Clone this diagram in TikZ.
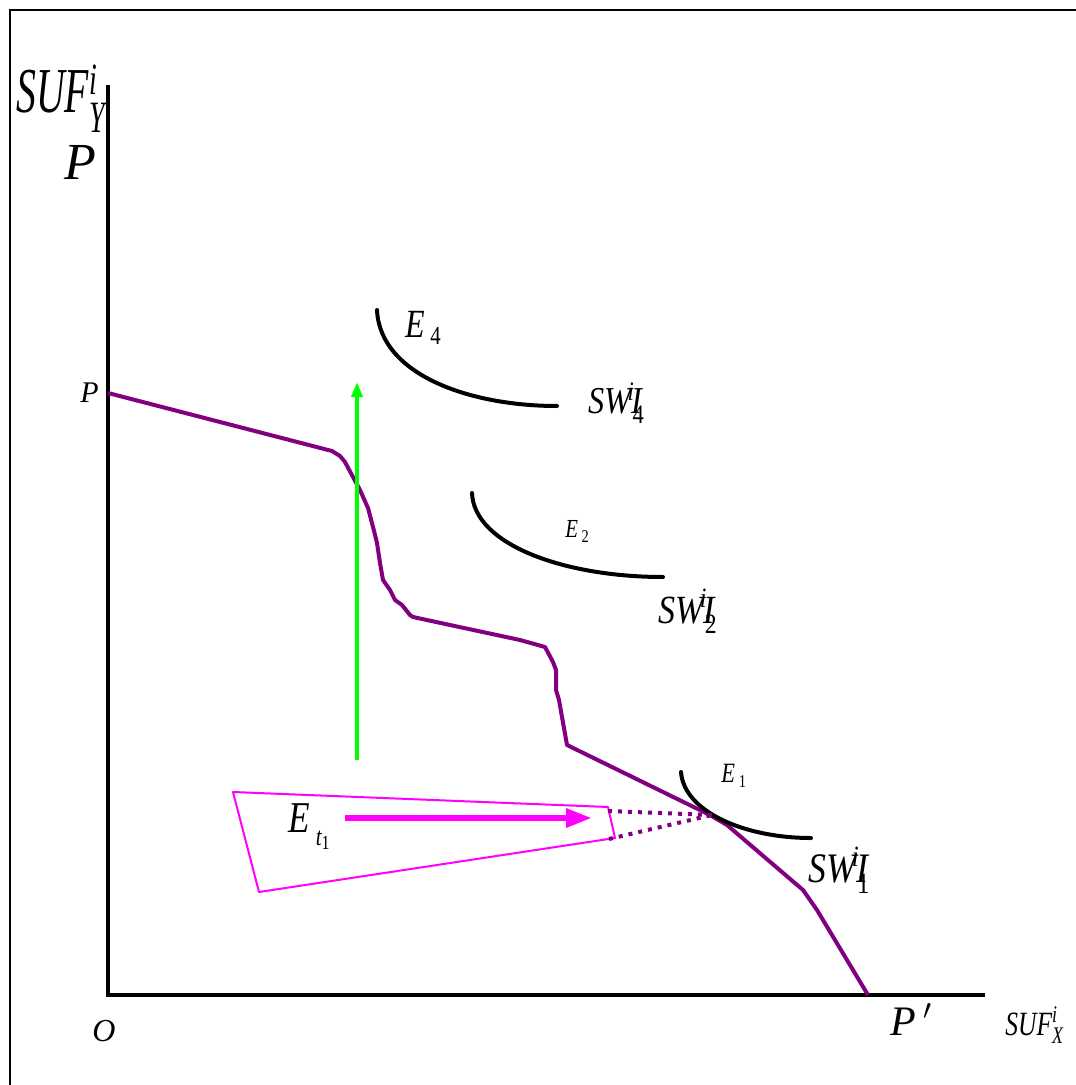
\documentclass[tikz,border=0pt]{standalone}
\usepackage{amsmath}
\usepackage{graphicx}
\usepackage{fontspec}
\setmainfont{Liberation Serif}
\usetikzlibrary{arrows.meta}
\definecolor{FrontierPurple}{RGB}{128,0,128}
\definecolor{ShiftGreen}{RGB}{0,255,0}
\definecolor{ShiftMagenta}{RGB}{255,0,255}
\newcommand\fsz[1]{\fontsize{#1}{#1}\selectfont}
\newcommand\swlab[1]{\scalebox{.85}[1]{\itshape SWI$^{\kern-.45em\text{\itshape i}}_{\kern-.3em\text{\upshape #1}}$}}
\tikzset{
  lab/.style={inner sep=0pt,anchor=base west},
  icurve/.style={line width=2pt,line cap=round},
}

\begin{document}
\begin{tikzpicture}[x=.5pt,y=-.5pt]
  \useasboundingbox (0,0) rectangle (1075,1085);
  % frame
  \draw[line width=1.2pt] (10,1100) -- (10,10) -- (1090,10);
  % axes
  \coordinate (ytop) at (108,85);
  \coordinate (xend) at (985,995);
  \draw[line width=2pt] (ytop) |- (xend);
  \node[lab] (ylab) at (16,113) {\scalebox{.62}[1]{\fsz{32}\itshape SUF$^{\text{\itshape i}}_{\text{\itshape Y}}$}};
  \node[lab] (Pbig) at (64,180) {\fsz{26}\itshape P};
  \node[lab] (Psmall) at (80,402) {\fsz{15}\itshape P};
  \node[lab] (Olab) at (92,1041) {\fsz{16}\itshape O};
  \node[lab] (Pprime) at (890,1035) {\fsz{21}\itshape P\,$'$};
  \node[lab] (xlab) at (1005,1035) {\scalebox{.75}[1]{\fsz{17}\itshape SUF$^{\text{\itshape i}}_{\text{\itshape X}}$}};

  % frontier
  \draw[line width=2pt,FrontierPurple,line join=round] plot coordinates
    {(108,393)(332,451)(340,456)(345,462)(353,477)(360,490)(368,508)(373,527)
     (377,543)(380,563)(383,580)(390,590)(395,600)(402,605)(410,615)(413,617)
     (450,625)(520,640)(545,647)(553,662)(556,670)(556,690)(559,700)(562,717)
     (567,745)(710,815)(727,825)(803,890)(817,910)(868,995)};

  % indifference curves
  \draw[icurve] (377,310) .. controls (380,375) and (470,406) .. (557,406);
  \draw[icurve] (472,493) .. controls (474,545) and (565,577) .. (663,577);
  \draw[icurve] (681,772) .. controls (684,812) and (745,838) .. (811,838);
  \node[lab] (E4) at (405,337) {\scalebox{.8}[1]{\fsz{20}\itshape E\,\upshape\fsz{13}\raisebox{-.3em}{4}}};
  \node[lab] (E2) at (565,537) {\scalebox{.8}[1]{\fsz{13}\itshape E\,\upshape\fsz{9}\raisebox{-.3em}{2}}};
  \node[lab] (E1) at (721,782) {\scalebox{.8}[1]{\fsz{14}\itshape E\,\upshape\fsz{9}\raisebox{-.3em}{1}}};
  \node[lab] (SW4) at (588,413) {\fsz{19}\swlab{4}};
  \node[lab] (SW2) at (658,623) {\fsz{20}\swlab{2}};
  \node[lab] (SW1) at (808,882) {\fsz{21}\swlab{1}};

  % shift upward
  \coordinate (gbot) at (357,760);
  \coordinate (gtop) at (357,382);
  \draw[line width=2pt,ShiftGreen,-{Triangle[length=7.5pt,width=5.5pt]}] (gbot) -- (gtop);

  % cone at E_t1
  \coordinate (tip) at (712,815);
  \draw[ShiftMagenta,line width=1pt,line join=round]
    (233,792) -- (608,807) -- (615,838) -- (259,892) -- cycle;
  \draw[FrontierPurple,line width=2pt,dash pattern=on 2pt off 3pt] (608,811) -- (tip);
  \draw[FrontierPurple,line width=2pt,dash pattern=on 2pt off 3pt] (609,839) -- (tip);
  \node[lab] (Et) at (288,832) {\scalebox{.8}[1]{\fsz{22}\itshape E\,\fsz{13}\raisebox{-.5em}{\itshape t\fsz{10}\raisebox{-.2em}{\upshape 1}}}};
  \coordinate (mstart) at (345,818);
  \coordinate (mend) at (592,818);
  \draw[ShiftMagenta,line width=3pt,-{Triangle[length=13pt,width=9pt]}] (mstart) -- (mend);
\end{tikzpicture}
\end{document}
